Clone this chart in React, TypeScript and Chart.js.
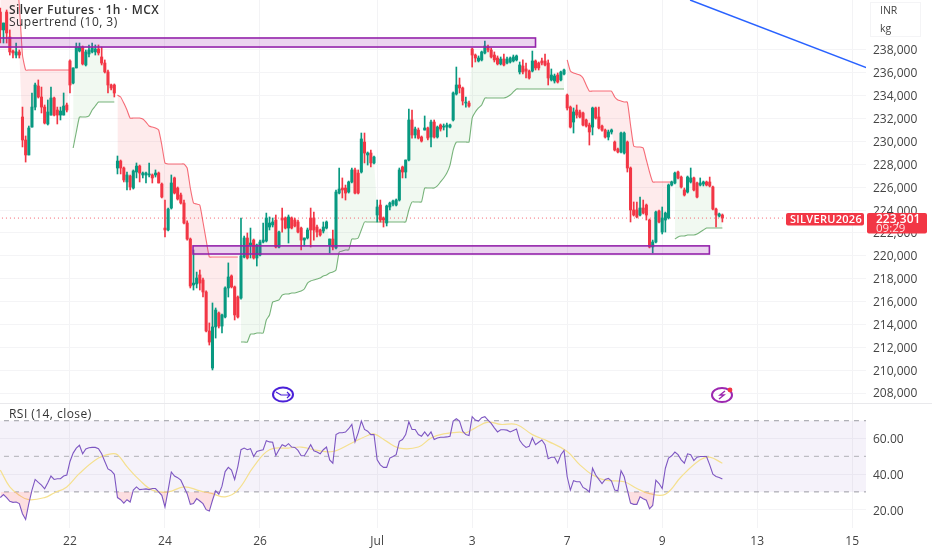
import React, { useEffect, useRef } from "react";
import { Chart, registerables } from "chart.js";

Chart.register(...registerables);

const opens = [241320,239750,241320,239140,237910,237560,237830,232140,230130,228820,231260,233010,234850,233890,233010,231530,232310,233800,232750,232310,232310,233190,237040,235110,236430,237910,238260,236690,237650,237830,237830,238090,237390,236860,236080,234940,234940,
227680,228290,227680,226460,226980,225930,227330,227850,227070,227070,227070,227070,227070,227240,226280,222430,222260,224180,226810,225930,225320,224620,222870,221470,217450,217540,218330,217890,216840,213430,210190,213780,215000,213860,214650,217190,218240,217280,216400,
216310,219900,221560,220950,221380,219810,220070,221210,221300,222520,222700,223130,220770,223310,223310,222430,223310,223130,222960,222430,221380,221560,223310,223310,222520,222260,222170,222430,220950,221470,220690,225490,225930,225930,225580,226460,227510,227240,227330,229950,228820,228990,228120,
223570,224440,223310,222870,224270,224530,224440,224880,227770,227330,228380,231880,230570,231000,230390,231000,231180,230390,231700,230390,231440,231260,231260,231260,231880,234150,234940,234680,233360,233360,
238090,237560,237040,237130,237740,238260,238000,237560,237300,236780,237210,236860,236950,237040,237130,236080,236600,236340,236160,236160,237040,236860,237040,237040,236860,235380,235290,235810,235380,235900,
234060,233010,231700,232750,232580,232490,231880,231440,231260,232930,232140,231350,231000,230390,230830,229950,229340,229080,228990,229950,227680,224010,224010,223570,224180,224440,223130,220770,221210,223920,222080,223130,223310,226190,226370,227330,226890,225760,225580,226460,226810,226370,226190,226280,226460,226460,226020,224090,223480,223570];
const highs = [241670,240360,241500,239750,238000,238610,238000,233010,230480,231350,234240,235110,235380,234760,233190,233630,234760,233890,233010,233010,234240,233360,237130,236430,238610,238610,238350,238000,238440,238610,238440,238440,238260,237130,236250,235030,235030,
228730,228380,227770,227330,227070,227510,228120,227940,227330,227330,228120,227160,227510,227330,226370,224880,224180,227070,226890,226020,225490,224880,223050,221560,220510,218580,218760,218060,216930,214130,215880,215440,215090,214910,217280,219380,218330,217360,216490,
223310,221730,222000,222430,221470,221030,221380,222870,223740,223400,223310,223570,222170,224180,223400,223570,223400,223310,223130,222520,221560,222430,224180,223830,222700,222350,222960,223050,221470,222260,225760,227680,226810,226190,226540,227680,227680,227510,230740,230740,229080,229250,228730,
224880,224880,223400,224440,224710,224880,224970,227680,227850,228380,232840,232750,231260,231180,230480,232230,231260,231880,231880,231350,231530,231530,231610,231530,234330,236510,235550,234760,233890,233540,
238170,237650,237480,237910,238790,238440,238170,237830,237480,237390,237650,237390,237390,237560,237560,236950,237130,236860,236250,237910,237130,236950,237300,237650,237130,236340,235900,235990,236160,236340,
234150,233100,232930,233190,232750,232580,231960,231610,233010,233010,233010,231440,231090,231000,231090,230040,229430,230830,230830,230040,227770,224710,224710,225140,224880,224530,223220,221380,223920,224010,224270,223830,226280,226540,227330,227420,226980,225930,226980,227680,226890,226460,226810,226540,226540,226890,226110,224180,223740,223660];
const lows = [238610,238610,238610,237560,237300,237300,237300,229520,228200,228820,231260,232750,233800,232490,231530,231440,232310,232230,231530,231880,232310,232580,234240,235030,236430,237830,236690,236600,237390,237740,237560,237560,236690,235990,234240,234500,233890,
227160,227160,226460,225760,225760,225840,226810,226460,226810,226370,226890,226370,226890,226370,225060,221650,222170,224090,225410,224880,224530,222780,221380,217190,217010,217190,217010,216400,213340,212200,210020,212810,213690,213250,214560,216400,217190,214390,214560,
216220,219810,219720,219810,219720,219110,219990,221120,221210,222260,222520,220690,220690,222080,222350,221120,222350,222520,222000,220510,220860,221470,220770,221380,221650,221730,222000,222350,220250,220510,220600,225410,225060,224880,225490,226370,225410,225410,227240,228120,227940,227770,228030,
222960,222960,222520,222610,224010,224360,224360,224790,226810,226810,228290,230300,230300,230220,229950,231000,230130,229520,230300,230300,230910,231000,230390,231180,231790,234060,234240,233190,233010,233010,
236510,236950,236950,237040,237650,237830,237300,236950,236690,236690,236600,236780,236860,236950,237040,235900,235900,235550,235460,236080,236250,236250,236690,236600,234940,235290,235110,235110,235290,235810,
232750,231180,230740,232050,232050,231350,231260,229690,230570,231960,231090,230910,230300,230130,230650,229170,228990,228990,228900,227330,222960,223480,223310,223480,223660,223130,220690,220250,221120,222870,221910,222080,223220,226110,226280,226720,225930,225230,225490,226370,225670,225060,226110,226110,226110,226020,224010,222520,223400,222960];
const closes = [239750,240360,239490,237830,237740,237830,237560,230130,228820,231180,233010,234940,233890,233010,231610,232580,233800,232310,232310,232660,233100,232750,234940,236430,238260,238260,236780,237830,238000,238170,238090,237740,236860,236080,234940,234680,234240,
228290,227680,226630,227070,226020,227420,227850,227240,227240,227240,227160,226810,227240,226370,225140,222260,224090,226370,225490,224970,224620,222870,221470,217360,217620,218060,217620,216840,213430,212460,213780,215260,213860,214830,217190,218150,217280,214830,214650,
219990,221560,219810,221120,219810,220950,221210,221380,223310,222870,222960,220770,222080,223130,222430,223400,222430,222610,222080,221380,221560,222260,222260,222260,222080,221820,222520,222960,221470,220770,225580,225840,225760,225490,226460,227510,225490,225490,230220,228990,228990,228120,228640,
224270,223130,223130,224360,224620,224790,224880,227510,227330,228380,231880,230570,231090,230300,230040,231180,230300,231700,230390,231260,231090,231350,231440,231440,234240,234940,234680,233540,233450,233100,
237560,237300,237300,237830,238350,238000,237390,237130,236780,237210,236690,237210,237300,237390,237480,236690,236080,236160,235550,237040,236430,236430,236860,236690,235550,235810,235730,235200,236080,236250,
232930,231260,232580,232310,232140,231440,231350,230830,232930,232050,231180,231000,230390,230830,231000,229250,229080,230740,230740,227680,224010,223570,223400,224180,223740,223570,220770,221210,223830,222960,223310,223740,226190,226460,227240,226810,226020,225320,226890,226810,225760,225140,226370,226460,226190,226110,224090,223570,223660,223301];

const rsiValues = [26.8,28.5,26.8,24.7,24.1,24.3,23.4,17.7,14.5,23.4,31,37,35.3,33.8,31.7,35.1,38.9,37,37.4,37.4,38.9,39.5,47.1,51.8,54.6,56.2,51.4,54.1,54.8,55,55,54.3,51.4,47.1,42.9,41.9,39.9,26.8,25.6,23.7,25.6,24.3,31,32.8,31.3,31.5,31.7,31.3,31.9,31.9,30,28.1,21.5,31,41.2,38.9,38,36.6,32.8,29,23,23.4,26.2,24.9,23.4,20,19.2,25.3,30.6,28.7,33.2,41.4,43.8,42.3,37,44.2,53.7,54.6,53.7,54.3,49.9,52.7,53.3,53.7,58.8,58.1,57.9,50.5,53.7,56.5,55.6,57.1,55.2,55,53.3,50.3,50.3,53.3,56.5,53.1,52.4,51.4,53.7,55.2,48,46.1,62.2,63.2,63.2,63.6,65.5,67.9,58.1,63.2,69.8,65.1,64.1,62.2,62.2,48,45.2,43.8,43.8,49,49.9,50.9,58.4,59.4,62.2,69.4,65.1,65.1,62.2,61.3,63.7,61.3,63.7,59.4,60.3,60.7,60.7,60.9,61.3,69.8,71.1,69.8,64.1,62.2,
61.7,72.3,70.4,69.8,71.7,72.3,70.4,68.5,66,63.7,64.9,64.9,64.7,63.7,64.5,65.3,59,56.5,55,55.6,60.3,56.5,57.9,59.2,56.5,48.6,49.5,49.5,46.1,50.9,53.3,38.5,31,36.3,35.7,35.7,32.5,31.5,30,43.3,39.5,37,34.7,37,37.6,36.1,31,30.6,41.9,38.5,31,23.7,23,23,27.2,26.2,25.3,20.5,22.4,36.6,34.7,31.9,43.3,49,50.3,52.4,50.9,48,46.1,51.4,50.9,47.6,49.5,49.9,49.9,49.9,45.2,39.9,38.7,38.1,37.2];

const rsiMaIndex = [0,3,6,9,14,17,21,25,31,35,37,40,44,48,53,58,63,67,71,75,80,85,91,95,100,105,111,116,118,122,126,132,136,140,145,147,150,154,158,163,168,173,179,183,187,191,197,201,205,210,215,221,224,228];
const rsiMaValues = [42.3,32.8,28.1,25.6,26.8,29.4,32.8,40.4,49,51.4,50.9,44.2,36.6,31,30,32.8,30.6,29,27.2,31,44.2,53.7,54.6,55.2,53.3,52.7,57.5,61.7,62.6,58.4,54.6,55.2,60.3,62.6,63.6,63.2,66,69.2,67.9,67.9,62.2,58.4,52.7,45.2,39.5,36.6,35.7,31.9,29,28.7,38.5,48,49.5,46.1];

const superDownA = [244200,244200,244200,244200,244200,244200,241930,237560,236250,236250,236250,236250,236250,236250,236250,236250,236250,236250,236250,236250,236250,236250,236250];
const superUpA = [229430,230830,232140,232140,232140,232230,232750,233100,233450,233450,233450,233450,233450,233450];
const superDownB = [234060,233890,233360,232750,232050,232050,232050,232050,231960,231700,231350,231260,231180,231000,229690,228120,228030,228030,228030,228030,228030,228030,227680,225930,224620,224530,224440,222960,221380,219900,219900,219900,219900,219900,219900,219900,219900,219900,219900];
const superUpB = [212460,212460,212460,213160,213160,213250,213250,213250,214390,214830,215960,216050,216140,216570,216660,216660,216750,216750,216840,216930,217100,217620,217800,217890,217970,218060,218240,218330,218500,218580,218760,220330,220420,220510,220510,221470,221470,221560,222260,222960,222960,222960,222960,222960,222960,222960,222960,222960,222960,222960,222960,222960,222960,224010,224710,224710,224710,224710,225930,225930,225930,225930,226110,226460,226810,227240,227940,229250,229950,229950,229950,229950,229950,232050,232580,232930,233190,233800,233800,233800,233800,233800,233800,233800,233890,234060,234330,234590,234590,234590,234590,234590,234590,234590,234590,234590,234590,234590,234590,234590,234590,234590,234590];
const superDownC = [237130,236160,235990,235900,235810,235550,234940,234410,234410,234410,234410,234410,234410,234410,234410,233890,233630,233540,233450,233450,231440,229600,229520,229520,229430,228380,227330,226460,226460,226460,226460,226460,226460,226460];
const superUpC = [221470,221650,221730,221730,221820,221820,221820,221910,222080,222260,222430,222430,222430,222430,222430,222430];

const superDownStarts = [0, 37, 179];
const superUpStarts = [23, 76, 213];

const priceTicks = [238000,236000,234000,232000,230000,228000,226000,224000,222000,220000,218000,216000,214000,212000,210000,208000];
const rsiTicks = [60, 40, 20];
const dayTicks = [22, 52, 82, 119, 149, 179, 209, 239, 269];
const dayLabels = ["22", "24", "26", "Jul", "3", "7", "9", "13", "15"];

const zoneHighs = [239050, 220870];
const zoneLows = [238260, 220160];
const zoneStarts = [-3, 60.85];
const zoneEnds = [169, 223.9];

const trendIndex = [217.8, 273.4];
const trendPrices = [242372, 236470];

const lastPrice = 223301;
const rsiLevels = [70, 50, 30];

const FONT = '"Open Sans", sans-serif';
const RED = "#f23645";
const GREEN = "#089981";

function withStarts(segments: number[][], starts: number[]) {
  const out: (number | null)[] = opens.map(() => null);
  segments.forEach((seg, s) => seg.forEach((v, k) => { out[starts[s] + k] = v; }));
  return out.map((y, x) => ({ x, y }));
}

function noPadding(s: any) {
  s.paddingTop = 0;
  s.paddingBottom = 0;
  s.paddingLeft = 0;
  s.paddingRight = 0;
}

const overlay = {
  id: "overlay",
  afterDraw(chart: any) {
    const { ctx, scales, chartArea } = chart;
    const X = scales.x, P = scales.price;
    ctx.save();

    // zones
    zoneHighs.forEach((hi, k) => {
      const l = X.getPixelForValue(zoneStarts[k]), r = X.getPixelForValue(zoneEnds[k]);
      const t = P.getPixelForValue(hi), b = P.getPixelForValue(zoneLows[k]);
      ctx.fillStyle = "rgba(156,39,176,0.2)";
      ctx.fillRect(l, t, r - l, b - t);
      ctx.strokeStyle = "#9423ab";
      ctx.lineWidth = 1.6;
      ctx.strokeRect(l, t, r - l, b - t);
    });

    // pane separator
    ctx.strokeStyle = "#e9e9ec";
    ctx.lineWidth = 1;
    ctx.beginPath();
    ctx.moveTo(0, P.bottom - 0.5);
    ctx.lineTo(chartArea.right + 66, P.bottom - 0.5);
    ctx.stroke();

    // legend texts
    ctx.textBaseline = "middle";
    ctx.textAlign = "left";
    ctx.fillStyle = "#333";
    ctx.letterSpacing = "0.45px";
    ctx.font = `600 12px ${FONT}`;
    ctx.fillText("Silver Futures · 1h · MCX", 9, 11);
    ctx.font = `12px ${FONT}`;
    ctx.fillText("Supertrend (10, 3)", 9, 23);
    ctx.fillText("RSI (14, close)", 9, 415);
    ctx.letterSpacing = "0px";

    // currency / unit box
    ctx.strokeStyle = "#f4f4f6";
    ctx.strokeRect(870.5, 2.5, 50, 34);
    ctx.fillStyle = "#444";
    ctx.font = `10.5px ${FONT}`;
    ctx.fillText("INR", 880, 11);
    ctx.fillText("kg", 880, 29);

    // symbol and price tags
    const ty = P.getPixelForValue(lastPrice);
    ctx.fillStyle = RED;
    ctx.beginPath();
    ctx.roundRect(786, ty - 5, 78, 12.5, 2);
    ctx.fill();
    ctx.beginPath();
    ctx.roundRect(867, ty - 5, 60, 20.5, 2);
    ctx.fill();
    ctx.fillStyle = "#fff";
    ctx.letterSpacing = "0.3px";
    ctx.font = `600 11px ${FONT}`;
    ctx.fillText("SILVERU2026", 790, ty + 1.5);
    ctx.letterSpacing = "0px";
    ctx.font = `600 12px ${FONT}`;
    ctx.fillText("223,301", 876, ty + 1.5);
    ctx.font = `11.5px ${FONT}`;
    ctx.fillStyle = "rgba(255,255,255,0.85)";
    ctx.fillText("09:29", 876, ty + 10.5);

    // event markers
    ctx.lineWidth = 2;
    ctx.strokeStyle = "#4a20d8";
    ctx.beginPath();
    ctx.ellipse(283, 394.5, 10, 7, 0, 0, Math.PI * 2);
    ctx.stroke();
    ctx.lineWidth = 1.2;
    ctx.beginPath();
    ctx.moveTo(276, 392);
    ctx.lineTo(281, 395);
    ctx.lineTo(290, 395);
    ctx.moveTo(287, 392);
    ctx.lineTo(290, 395);
    ctx.lineTo(287, 398);
    ctx.stroke();

    ctx.lineWidth = 2;
    ctx.strokeStyle = "#9c27b0";
    ctx.beginPath();
    ctx.ellipse(722, 395, 10, 7, 0, 0, Math.PI * 2);
    ctx.stroke();
    ctx.lineWidth = 1.4;
    ctx.beginPath();
    ctx.moveTo(725, 391);
    ctx.lineTo(720, 395);
    ctx.lineTo(724, 395);
    ctx.lineTo(719, 399);
    ctx.stroke();
    ctx.fillStyle = RED;
    ctx.beginPath();
    ctx.arc(730, 390, 2.4, 0, Math.PI * 2);
    ctx.fill();

    ctx.restore();
  },
};

export default function App() {
  const ref = useRef<HTMLCanvasElement | null>(null);

  useEffect(() => {
    if (!ref.current) return;
    const candleColor = opens.map((o, i) => (closes[i] > o ? GREEN : RED));
    const line = (extra: any) => ({
      type: "line",
      pointRadius: 0,
      borderWidth: 1,
      tension: 0,
      xAxisID: "x",
      yAxisID: "price",
      fill: false,
      ...extra,
    });
    const band = (v: number) => [{ x: -2, y: v }, { x: 275, y: v }];

    const chart = new Chart(ref.current, {
      type: "bar",
      data: {
        datasets: [
          // 0: invisible mid line used as the supertrend fill target
          line({ data: opens.map((o, x) => ({ x, y: (o + closes[x]) / 2 })), borderWidth: 0, borderColor: "transparent", order: 90 }),
          // 1: down band
          line({
            data: withStarts([superDownA, superDownB, superDownC], superDownStarts),
            borderColor: "rgba(242,54,69,0.72)", borderWidth: 1.1,
            backgroundColor: "rgba(242,54,69,0.1)", fill: 0, order: 60, tension: 0.15,
          }),
          // 2: up band
          line({
            data: withStarts([superUpA, superUpB, superUpC], superUpStarts),
            borderColor: "rgba(76,155,80,0.75)", borderWidth: 1.1,
            backgroundColor: "rgba(76,175,80,0.08)", fill: 0, order: 60, tension: 0.15,
          }),
          // price line
          line({ data: band(lastPrice), borderColor: "rgba(242,54,69,0.75)", borderDash: [1, 3], order: 55 }),
          // wicks
          {
            type: "bar", xAxisID: "x", yAxisID: "price", grouped: false, barThickness: 1, order: 20,
            data: opens.map((_, x) => ({ x, y: [lows[x], highs[x]] })),
            backgroundColor: candleColor,
          },
          // bodies
          {
            type: "bar", xAxisID: "x", yAxisID: "price", grouped: false, barThickness: 2.4, minBarLength: 1, order: 10,
            data: opens.map((o, x) => ({ x, y: [o, closes[x]] })),
            backgroundColor: candleColor,
          },
          // trend line
          line({ data: trendIndex.map((x, k) => ({ x, y: trendPrices[k] })), borderColor: "#2962ff", borderWidth: 1.5, order: 5 }),
          // RSI bands: index 7 = top level, 9 = bottom level
          line({ yAxisID: "rsi", data: band(rsiLevels[0]), borderColor: "#9b9ba3", borderDash: [5, 5], backgroundColor: "rgba(126,87,194,0.08)", fill: 9, order: 80 }),
          line({ yAxisID: "rsi", data: band(rsiLevels[1]), borderColor: "#b0b0b6", borderDash: [5, 5], order: 79 }),
          line({ yAxisID: "rsi", data: band(rsiLevels[2]), borderColor: "#9b9ba3", borderDash: [5, 5], order: 79 }),
          // RSI
          line({
            yAxisID: "rsi",
            data: rsiValues.map((y, x) => ({ x, y })),
            borderColor: "#7e57c2", borderWidth: 1.1,
            fill: { target: { value: 30 }, below: "rgba(242,54,69,0.16)", above: "rgba(0,0,0,0)" },
            order: 3,
          }),
          // RSI moving average
          line({
            yAxisID: "rsi",
            data: rsiMaIndex.map((x, k) => ({ x, y: rsiMaValues[k] })),
            borderColor: "#f5e08f", borderWidth: 1.2, tension: 0.4,
            order: 4,
          }),
        ],
      },
      options: {
        responsive: false,
        animation: false,
        devicePixelRatio: 1,
        layout: { padding: 0, autoPadding: false },
        plugins: { legend: { display: false }, tooltip: { enabled: false }, title: { display: false } },
        scales: {
          x: {
            type: "linear",
            offset: false,
            min: -0.095,
            max: 273.35,
            grid: { color: "#f3f3f5", offset: false, drawTicks: false },
            border: { display: false },
            afterBuildTicks: (s: any) => { s.ticks = dayTicks.map((value) => ({ value })); },
            afterFit: (s: any) => { s.height = 22; noPadding(s); },
            ticks: {
              autoSkip: false,
              maxRotation: 0,
              padding: 6,
              color: "#444",
              font: { family: FONT, size: 12 },
              callback: (v: any) => dayLabels[dayTicks.indexOf(Number(v))] ?? "",
            },
          },
          price: {
            type: "linear",
            position: "right",
            stack: "panes",
            stackWeight: 404,
            min: 207043,
            max: 242372,
            grid: { color: "#f4f4f6", drawTicks: false },
            border: { display: false },
            afterBuildTicks: (s: any) => { s.ticks = priceTicks.map((value) => ({ value })); },
            afterFit: (s: any) => { s.width = 66; noPadding(s); },
            ticks: {
              autoSkip: false,
              padding: 7,
              labelOffset: 1,
              color: "#444",
              font: { family: FONT, size: 12 },
              callback: (v: any) => Number(v).toLocaleString("en-US"),
            },
          },
          rsi: {
            type: "linear",
            position: "right",
            stack: "panes",
            stackWeight: 124,
            min: 9.7,
            max: 79.4,
            grid: { color: "#f4f4f6", drawTicks: false },
            border: { display: false },
            afterBuildTicks: (s: any) => { s.ticks = rsiTicks.map((value) => ({ value })); },
            afterFit: (s: any) => { s.width = 66; noPadding(s); },
            ticks: {
              autoSkip: false,
              padding: 7,
              labelOffset: 1.5,
              color: "#444",
              font: { family: FONT, size: 12 },
              callback: (v: any) => Number(v).toFixed(2),
            },
          },
        },
      },
      plugins: [overlay],
    } as any);
    return () => chart.destroy();
  }, []);

  return (
    <canvas
      ref={ref}
      width={932}
      height={550}
      style={{ position: "fixed", left: 0, top: 0, width: 932, height: 550, display: "block" }}
    />
  );
}
